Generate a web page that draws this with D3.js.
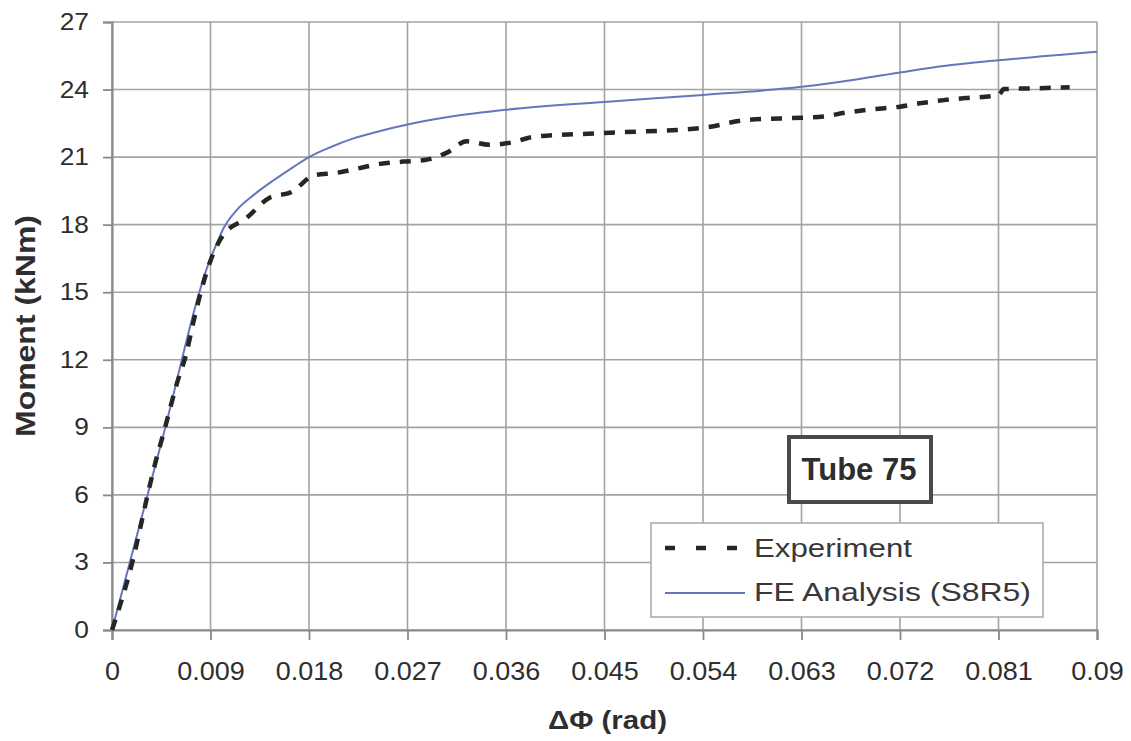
<!DOCTYPE html>
<html><head><meta charset="utf-8">
<script src="https://cdn.jsdelivr.net/npm/d3@7"></script>
<style>body{margin:0;background:#fff;}svg{display:block;font-family:"Liberation Sans",Arial,sans-serif;}</style>
</head><body>
<svg id="chart" width="1131" height="741"></svg>
<script>
const xTicks = [0,0.009,0.018,0.027,0.036,0.045,0.054,0.063,0.072,0.081,0.09];
const xTickLabels = ["0","0.009","0.018","0.027","0.036","0.045","0.054","0.063","0.072","0.081","0.09"];
const yTicks = [0,3,6,9,12,15,18,21,24,27];

const expX = [0,0.0021,0.0027,0.0033,0.004,0.0048,0.0059,0.0068,0.0074,0.008,0.009,0.0101,0.0123,0.0144,0.0164,0.0185,0.0205,0.0225,0.0245,0.0266,0.0286,0.0306,0.0324,0.0345,0.0365,0.0385,0.045,0.054,0.058,0.063,0.065,0.067,0.069,0.072,0.074,0.076,0.078,0.081,0.0815,0.0839,0.0875];
const expY = [0,3.5,4.8,6.1,7.5,8.9,10.9,12.3,13.6,14.8,16.4,17.5,18.3,19.2,19.45,20.2,20.3,20.5,20.7,20.8,20.87,21.2,21.7,21.55,21.65,21.9,22.07,22.3,22.65,22.75,22.8,22.97,23.1,23.24,23.4,23.53,23.62,23.75,24.02,24.05,24.1];

const feX = [0,0.0045,0.009,0.0096,0.0102,0.0114,0.0129,0.0147,0.0166,0.018,0.020,0.022,0.0245,0.027,0.031,0.036,0.045,0.054,0.063,0.068,0.072,0.076,0.081,0.09];
const feY = [0,8.3,16.5,17.2,17.85,18.65,19.3,19.95,20.57,21.0,21.45,21.82,22.16,22.45,22.8,23.1,23.45,23.76,24.12,24.45,24.76,25.05,25.3,25.68];

const seriesNames = ["Experiment","FE Analysis (S8R5)"];
const annotation = "Tube 75";

const svg = d3.select("#chart");
const L=112, R=1097, T=22, B=630;
const x = d3.scaleLinear().domain([0,0.09]).range([L,R]);
const y = d3.scaleLinear().domain([0,27]).range([B,T]);
const TXT = "#2e2e2e";

// gridlines
svg.append("g").selectAll("line").data(xTicks).join("line")
  .attr("x1",d=>x(d)).attr("x2",d=>x(d)).attr("y1",T).attr("y2",B)
  .attr("stroke","#a3a3a3").attr("stroke-width",1.6);
svg.append("g").selectAll("line").data(yTicks).join("line")
  .attr("x1",L).attr("x2",R).attr("y1",d=>y(d)).attr("y2",d=>y(d))
  .attr("stroke","#a3a3a3").attr("stroke-width",1.6);

// axes
const xa = svg.append("g").attr("transform",`translate(0,${B})`)
  .call(d3.axisBottom(x).tickValues(xTicks).tickFormat((d,i)=>xTickLabels[i]).tickSize(10).tickPadding(22));
const ya = svg.append("g").attr("transform",`translate(${L},0)`)
  .call(d3.axisLeft(y).tickValues(yTicks).tickSize(9).tickPadding(14));
[xa,ya].forEach(a=>{
  a.select(".domain").attr("stroke","#8a8a8a").attr("stroke-width",2.2);
  a.selectAll(".tick line").attr("stroke","#8a8a8a").attr("stroke-width",1.8);
  a.selectAll("text").attr("fill",TXT).attr("font-family","Liberation Sans, Arial, sans-serif");
});
xa.selectAll("text").attr("font-size",25).attr("transform","scale(1.08,1)");
ya.selectAll("text").attr("font-size",23.5).attr("x",-23/1.12).attr("transform","scale(1.12,1)");

// lines
const expData = expX.map((v,i)=>[v,expY[i]]);
const feData = feX.map((v,i)=>[v,feY[i]]);
const lineGen = d3.line().x(d=>x(d[0])).y(d=>y(d[1])).curve(d3.curveMonotoneX);
svg.append("path").datum(feData).attr("d",lineGen).attr("fill","none")
  .attr("stroke","#6476bd").attr("stroke-width",2);
svg.append("path").datum(expData).attr("d",lineGen).attr("fill","none")
  .attr("stroke","#262626").attr("stroke-width",4.5).attr("stroke-dasharray","11,10");

// annotation box
svg.append("rect").attr("x",789).attr("y",437).attr("width",142).attr("height",65)
  .attr("fill","#fff").attr("stroke","#4a4a4a").attr("stroke-width",4);
svg.append("text").attr("x",859).attr("y",480).attr("text-anchor","middle")
  .attr("font-size",31).attr("font-weight","bold").attr("fill",TXT).text(annotation);

// legend
svg.append("rect").attr("x",651).attr("y",523).attr("width",392).attr("height",94)
  .attr("fill","#fff").attr("stroke","#a8a8a8").attr("stroke-width",1.5);
svg.append("line").attr("x1",665).attr("x2",740).attr("y1",548).attr("y2",548)
  .attr("stroke","#262626").attr("stroke-width",4.5).attr("stroke-dasharray","10,21");
svg.append("line").attr("x1",665).attr("x2",745).attr("y1",593).attr("y2",593)
  .attr("stroke","#6476bd").attr("stroke-width",2);
svg.append("text").attr("x",754).attr("y",557).attr("font-size",26).attr("fill","#383838")
  .attr("textLength",158).attr("lengthAdjust","spacingAndGlyphs").text(seriesNames[0]);
svg.append("text").attr("x",754).attr("y",601).attr("font-size",26).attr("fill","#383838")
  .attr("textLength",277).attr("lengthAdjust","spacingAndGlyphs").text(seriesNames[1]);

// axis titles
svg.append("text").attr("x",548).attr("y",729)
  .attr("font-size",25).attr("font-weight","bold").attr("fill",TXT)
  .attr("textLength",119).attr("lengthAdjust","spacingAndGlyphs").text("ΔΦ (rad)");
svg.append("text").attr("transform","translate(35,437) rotate(-90)")
  .attr("font-size",27).attr("font-weight","bold").attr("fill",TXT)
  .attr("textLength",222).attr("lengthAdjust","spacingAndGlyphs").text("Moment (kNm)");
</script>
</body></html>
